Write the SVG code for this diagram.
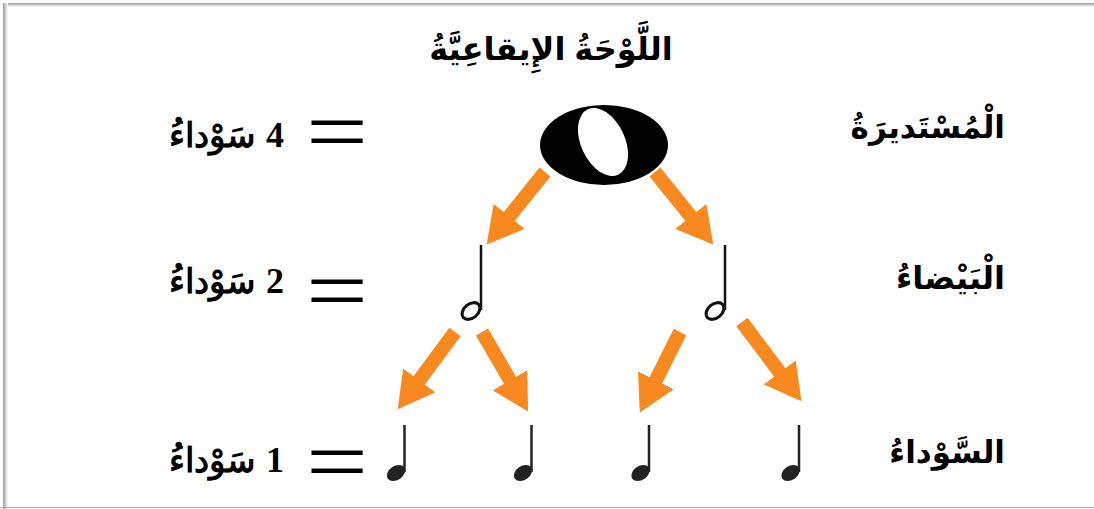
<svg xmlns="http://www.w3.org/2000/svg" width="1094" height="509" viewBox="0 0 1094 509">
<defs>
<style>
.sans{font-family:"Liberation Sans","DejaVu Sans",Arial,sans-serif;font-weight:bold;fill:#000}
.serif{font-family:"Liberation Serif","DejaVu Serif","Times New Roman",serif;font-weight:bold;fill:#000}
.eq{font-family:"Liberation Serif","Times New Roman",serif;font-weight:normal;fill:#000}
.arr{stroke:#F7891E;stroke-width:14;fill:none}
</style>
<marker id="ah" markerUnits="userSpaceOnUse" viewBox="0 0 36 40" refX="2" refY="20" markerWidth="36" markerHeight="40" orient="auto">
<path d="M0,0 L36,20 L0,40 Z" fill="#F7891E"/>
</marker>
<linearGradient id="gt" x1="0" y1="0" x2="0" y2="1"><stop offset="0" stop-color="#9a9a9a"/><stop offset="1" stop-color="#ffffff"/></linearGradient>
<linearGradient id="gl" x1="0" y1="0" x2="1" y2="0"><stop offset="0" stop-color="#9a9a9a"/><stop offset="1" stop-color="#ffffff"/></linearGradient>
</defs>
<rect width="1094" height="509" fill="#fff"/>
<rect x="4" y="3" width="1090" height="4" fill="url(#gt)"/>
<rect x="3" y="3" width="5" height="506" fill="url(#gl)"/>
<line x1="0" y1="507.5" x2="1094" y2="507.5" stroke="#b0b0b0" stroke-width="1"/>

<g id="title"><text class="sans" x="551" y="60" font-size="32" text-anchor="middle" direction="rtl">اللَّوْحَةُ الإِيقاعِيَّةُ</text></g>

<g id="label-row1">
<text class="sans" x="1005" y="138" font-size="31" text-anchor="start" direction="rtl">الْمُسْتَديرَةُ</text>
</g>
<g id="label-row2">
<text class="sans" x="1005" y="289" font-size="32" text-anchor="start" direction="rtl">الْبَيْضاءُ</text>
</g>
<g id="label-row3">
<text class="sans" x="1005" y="463" font-size="31" text-anchor="start" direction="rtl">السَّوْداءُ</text>
</g>

<g id="eq-row1">
<text class="eq" x="337" y="161" font-size="88" text-anchor="middle" transform="translate(337 0) scale(1.25 1) translate(-337 0)">=</text>
<text class="serif" x="275" y="147" font-size="36" text-anchor="middle">4</text>
<text class="serif" x="255" y="147" font-size="34" text-anchor="start" direction="rtl">سَوْداءُ</text>
</g>
<g id="eq-row2">
<text class="eq" x="337" y="320" font-size="88" text-anchor="middle" transform="translate(337 0) scale(1.25 1) translate(-337 0)">=</text>
<text class="serif" x="275" y="293" font-size="36" text-anchor="middle">2</text>
<text class="serif" x="255" y="293" font-size="34" text-anchor="start" direction="rtl">سَوْداءُ</text>
</g>
<g id="eq-row3">
<text class="eq" x="337" y="491" font-size="88" text-anchor="middle" transform="translate(337 0) scale(1.25 1) translate(-337 0)">=</text>
<text class="serif" x="275" y="472" font-size="36" text-anchor="middle">1</text>
<text class="serif" x="255" y="472" font-size="34" text-anchor="start" direction="rtl">سَوْداءُ</text>
</g>

<g id="whole-note">
<ellipse cx="604" cy="145" rx="64" ry="40" fill="#000"/>
<ellipse cx="603" cy="142" rx="22" ry="36" fill="#fff" transform="rotate(-25 603 142)"/>
</g>

<g id="half-note-1">
<line x1="481" y1="245" x2="481" y2="310" stroke="#111" stroke-width="2.5"/>
<ellipse cx="471" cy="311" rx="10" ry="7" fill="none" stroke="#111" stroke-width="3" transform="rotate(-40 471 311)"/>
</g>
<g id="half-note-2">
<line x1="725" y1="245" x2="725" y2="310" stroke="#111" stroke-width="2.5"/>
<ellipse cx="715" cy="311" rx="10" ry="7" fill="none" stroke="#111" stroke-width="3" transform="rotate(-40 715 311)"/>
</g>

<g id="quarter-note-1">
<line x1="404.5" y1="425" x2="404.5" y2="472" stroke="#222" stroke-width="2.5"/>
<ellipse cx="396" cy="473" rx="10" ry="7" fill="#222" transform="rotate(-35 396 473)"/>
</g>
<g id="quarter-note-2">
<line x1="531.5" y1="425" x2="531.5" y2="472" stroke="#222" stroke-width="2.5"/>
<ellipse cx="523" cy="473" rx="10" ry="7" fill="#222" transform="rotate(-35 523 473)"/>
</g>
<g id="quarter-note-3">
<line x1="649" y1="425" x2="649" y2="472" stroke="#222" stroke-width="2.5"/>
<ellipse cx="640.5" cy="473" rx="10" ry="7" fill="#222" transform="rotate(-35 640.5 473)"/>
</g>
<g id="quarter-note-4">
<line x1="799" y1="425" x2="799" y2="472" stroke="#222" stroke-width="2.5"/>
<ellipse cx="790.5" cy="473" rx="10" ry="7" fill="#222" transform="rotate(-35 790.5 473)"/>
</g>

<g id="connectors">
<line class="arr" x1="545" y1="172" x2="508" y2="218" marker-end="url(#ah)"/>
<line class="arr" x1="655" y1="172" x2="692" y2="218" marker-end="url(#ah)"/>
<line class="arr" x1="455" y1="332" x2="418" y2="382" marker-end="url(#ah)"/>
<line class="arr" x1="482" y1="332" x2="511" y2="382" marker-end="url(#ah)"/>
<line class="arr" x1="680" y1="332" x2="655" y2="382" marker-end="url(#ah)"/>
<line class="arr" x1="742" y1="322" x2="781" y2="374" marker-end="url(#ah)"/>
</g>
</svg>
